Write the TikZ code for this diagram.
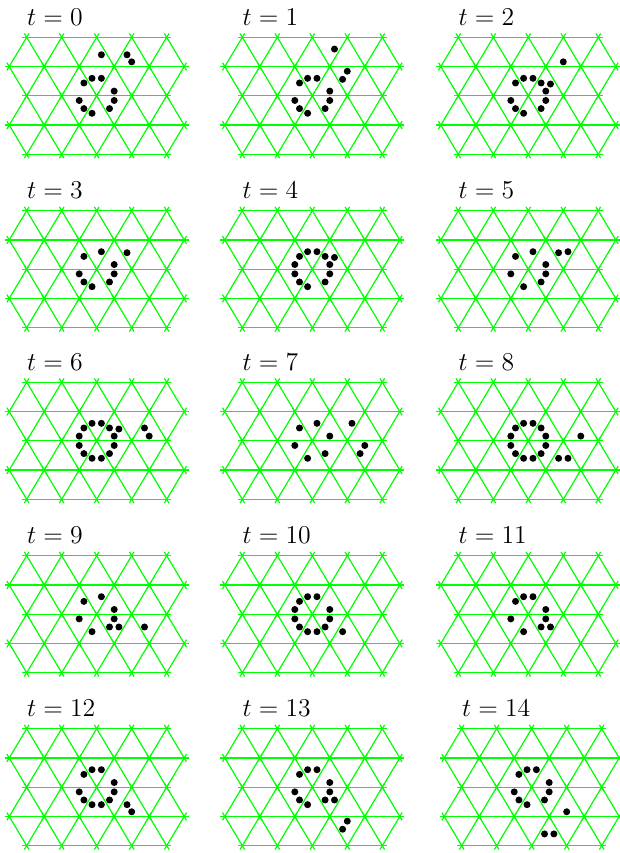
\RequirePackage{fix-cm}
\documentclass[tikz,border=0pt]{standalone}
\definecolor{latgreen}{rgb}{0,1,0}
\tikzset{
  bond/.style={draw=latgreen, line width=0.6pt, shorten <=-2.25pt, shorten >=-2.25pt},
  particle/.style={fill=black},
  stamp/.style={anchor=base west, inner sep=0pt, font=\fontsize{12.85}{15}\selectfont},
}

\begin{document}
\begin{tikzpicture}[x=0.5pt, y=0.5pt]
  \useasboundingbox (0,0) rectangle (620,853);
  \foreach \tn/\X/\Y/\gas in {
      0/26.7/815.7/{2/2/75,2/2/15,2/2/195,2/2/345,2/2/225,2/2/255,2/2/315,2/2/135,2/2/105,0/2/285,0/3/255,1/3/15},
      1/242.3/815.7/{1/3/75,1/3/345,1/3/315,2/2/135,2/2/105,2/2/75,2/2/15,2/2/345,2/2/195,2/2/225,2/2/255,2/2/315},
      2/458.3/815.7/{1/3/15,1/3/285,2/2/135,2/2/105,2/2/75,2/2/45,2/2/15,2/2/195,2/2/345,2/2/225,2/2/255,2/2/315},
      3/26.7/642.3/{2/2/135,2/2/75,2/2/15,2/2/195,2/2/345,2/2/225,2/2/255,2/2/315,1/3/315},
      4/242.3/642.3/{2/2/135,2/2/105,2/2/75,2/2/45,2/2/15,2/2/165,2/2/195,2/2/345,2/2/225,2/2/255,2/2/315,1/3/285},
      5/458.3/642.3/{2/2/135,2/2/75,2/2/15,2/2/195,2/2/345,2/2/255,2/2/315,1/3/315,2/3/75},
      6/26.7/470.7/{2/2/135,2/2/105,2/2/75,2/2/45,2/2/165,2/2/15,2/2/195,2/2/345,2/2/225,2/2/255,2/2/285,2/2/315,1/3/285,2/3/45,2/3/15},
      7/242.3/470.7/{2/2/135,2/2/75,2/2/15,2/2/195,2/2/255,2/2/315,2/3/75,2/3/345,2/3/315},
      8/458.3/470.7/{2/2/135,2/2/105,2/2/75,2/2/45,2/2/165,2/2/15,2/2/195,2/2/345,2/2/225,2/2/255,2/2/285,2/2/315,2/3/15,2/3/255,2/3/285},
      9/26.7/297.3/{2/2/135,2/2/75,2/2/15,2/2/195,2/2/345,2/2/255,2/2/315,2/3/225,2/3/315},
      10/242.3/297.3/{2/2/135,2/2/105,2/2/75,2/2/165,2/2/15,2/2/195,2/2/345,2/2/225,2/2/255,2/2/285,2/2/315,2/3/255},
      11/458.3/297.3/{2/2/135,2/2/105,2/2/75,2/2/15,2/2/195,2/2/345,2/2/255,2/2/315,2/3/225},
      12/26.7/124.3/{2/2/135,2/2/105,2/2/75,2/2/15,2/2/195,2/2/345,2/2/225,2/2/255,2/2/285,2/2/315,2/3/255,3/3/15},
      13/242.3/124.3/{2/2/135,2/2/105,2/2/75,2/2/15,2/2/195,2/2/345,2/2/225,2/2/255,2/2/315,2/3/225,3/3/345,3/3/315},
      14/461.7/124.3/{2/2/135,2/2/105,2/2/75,2/2/15,2/2/195,2/2/345,2/2/225,2/2/255,2/2/315,3/3/15,3/3/255,3/3/285}} {
    \begin{scope}[shift={(\X,\Y)}]
      % lattice sites
      \foreach \r in {0,2,4}
        \foreach \c in {0,...,4}
          \coordinate (p\tn-\r-\c) at (35*\c, -29.25*\r);
      \foreach \r in {1,3}
        \foreach \c in {0,...,5}
          \coordinate (p\tn-\r-\c) at (35*\c-17.5, -29.25*\r);
      % bonds
      \foreach \r in {0,2,4}
        \foreach \c [count=\n] in {0,...,3}
          \draw[bond] (p\tn-\r-\c) -- (p\tn-\r-\n);
      \foreach \r in {1,3}
        \foreach \c [count=\n] in {0,...,4}
          \draw[bond] (p\tn-\r-\c) -- (p\tn-\r-\n);
      \foreach \r/\s in {0/1,2/1,2/3,4/3}
        \foreach \c [count=\n] in {0,...,4} {
          \draw[bond] (p\tn-\r-\c) -- (p\tn-\s-\c);
          \draw[bond] (p\tn-\r-\c) -- (p\tn-\s-\n);
        }
      % particles
      \foreach \r/\c/\a in \gas
        \fill[particle] ([shift={(\a:18.1)}]p\tn-\r-\c) circle[radius=3.5];
      \node[stamp] (lbl\tn) at ([yshift=6pt]p\tn-0-0) {$t=\tn$};
    \end{scope}
  }
\end{tikzpicture}
\end{document}
